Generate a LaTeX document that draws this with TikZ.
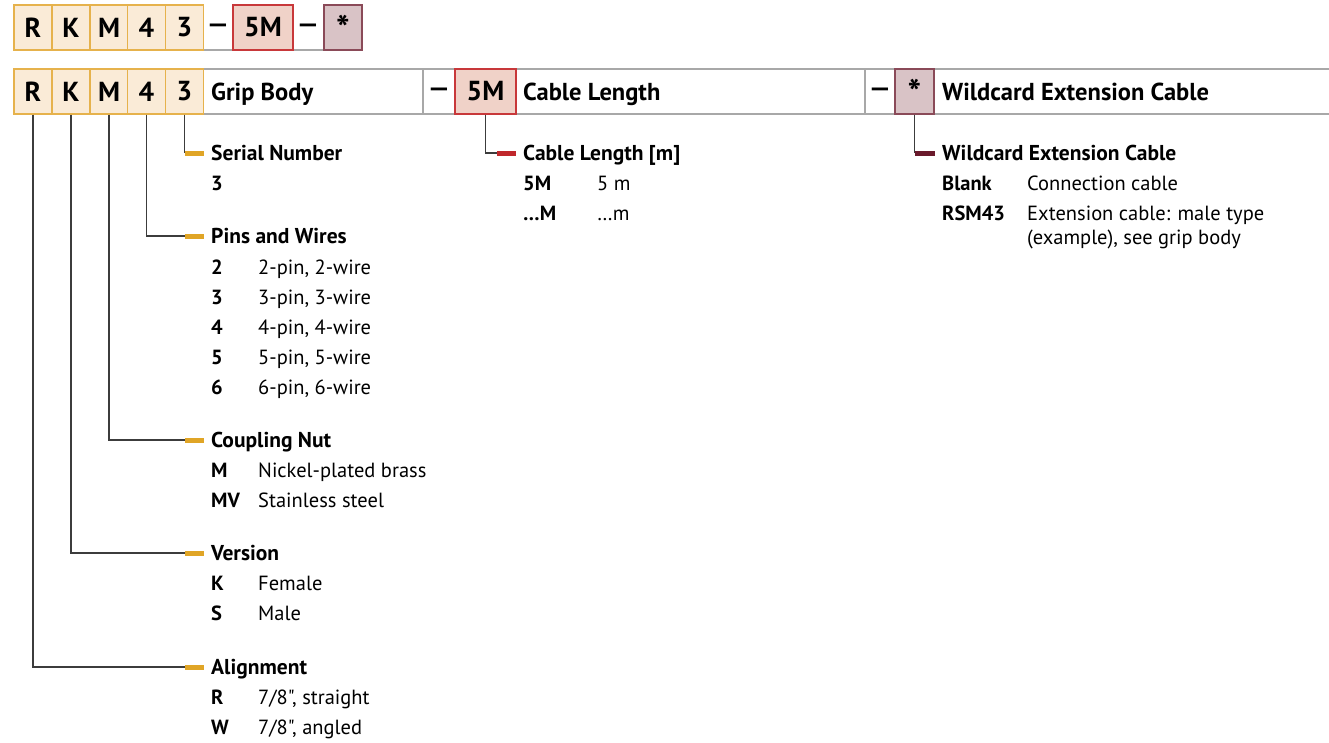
\documentclass[tikz,border=0pt]{standalone}
\usepackage{fontspec}
\setmainfont{PT Sans}[Ligatures=TeXOff]
\definecolor{ofill}{HTML}{FAEBD7}
\definecolor{oborder}{HTML}{E6B24C}
\definecolor{obar}{HTML}{E0A526}
\definecolor{rfill}{HTML}{F0D2C8}
\definecolor{rborder}{HTML}{C8383A}
\definecolor{rbar}{HTML}{C0282C}
\definecolor{mfill}{HTML}{D9C3C6}
\definecolor{mborder}{HTML}{8A4A58}
\definecolor{mbar}{HTML}{6A1A2C}
\definecolor{gline}{HTML}{A8A8A8}
\definecolor{cline}{HTML}{3C3C3C}
\newcommand{\boxfnt}{\fontsize{27.5}{31}\selectfont\bfseries}
\newcommand{\starfnt}{\fontsize{36}{40}\selectfont\bfseries}
\newcommand{\rowfnt}{\fontsize{24.5}{28}\selectfont\bfseries}
\newcommand{\hdrfnt}{\fontsize{21.5}{25}\selectfont\bfseries}
\newcommand{\codefnt}{\fontsize{20.5}{24}\selectfont\bfseries}
\newcommand{\descfnt}{\fontsize{20.5}{24}\selectfont}
\newcommand{\wdash}{\scalebox{1.5}[1]{–}}
\tikzset{
  cell/.style={line width=1.3pt, minimum height=45pt, inner sep=0, font=\boxfnt, anchor=center},
  obox/.style={cell, draw=oborder, fill=ofill, minimum width=37.8pt},
  rbox/.style={cell, draw=rborder, fill=rfill},
  mbox/.style={cell, draw=mborder, fill=mfill},
  startxt/.style={inner sep=0, font=\starfnt},
  dashtxt/.style={inner sep=0, font=\rowfnt},
  rowlbl/.style={inner sep=0, anchor=base west, font=\rowfnt},
  hdr/.style={inner sep=0, anchor=base west, font=\hdrfnt},
  codetxt/.style={inner sep=0, anchor=base west, font=\codefnt},
  desctxt/.style={inner sep=0, anchor=base west, font=\descfnt},
  gridline/.style={draw=gline, line width=1.4pt},
  conn/.style={draw=cline, line width=1.3pt},
  barnode/.style={inner sep=0, minimum height=5pt, minimum width=19pt, anchor=west},
}
\begin{document}
\begin{tikzpicture}[x=1pt,y=-1pt]
\useasboundingbox (0,0) rectangle (1329,742);
% ---------- top row ----------
\draw[gridline] (203,50) -- (324,50);
\node[obox] (tR) at (33,27.5) {R};
\node[obox] (tK) at (71,27.5) {K};
\node[obox] (tM) at (109,27.5) {M};
\node[obox] (t4) at (146.5,27.5) {4};
\node[obox] (t3) at (184.5,27.5) {3};
\node[dashtxt] (td1) at (218,28) {\wdash};
\node[rbox, minimum width=60pt] (t5M) at (263,27.5) {5M};
\node[dashtxt] (td2) at (308,28) {\wdash};
\node[mbox, minimum width=38pt] (tst) at (343,27.5) {};
\node[startxt] (tstar) at (343,28) {*};
% ---------- second row ----------
\draw[gridline] (203,69) -- (1329,69);
\draw[gridline] (203,114) -- (1329,114);
\draw[gridline] (423,69) -- (423,114);
\draw[gridline] (865,69) -- (865,114);
\node[obox] (bR) at (33,91.5) {R};
\node[obox] (bK) at (71,91.5) {K};
\node[obox] (bM) at (109,91.5) {M};
\node[obox] (b4) at (146.5,91.5) {4};
\node[obox] (b3) at (184.5,91.5) {3};
\node[rowlbl] (lGrip) at (211,100) {Grip Body};
\node[dashtxt] (bd1) at (439,92) {\wdash};
\node[rbox, minimum width=61pt] (b5M) at (485.5,91.5) {5M};
\node[rowlbl] (lCable) at (523,100) {Cable Length};
\node[dashtxt] (bd2) at (880,92) {\wdash};
\node[mbox, minimum width=39pt] (bst) at (914.5,91.5) {};
\node[startxt] (bstar) at (914.5,92) {*};
\node[rowlbl] (lWild) at (942,100) {Wildcard Extension Cable};
% ---------- bars ----------
\node[barnode, fill=obar] (barSer) at (184.5,153) {};
\node[barnode, fill=obar] (barPin) at (184.5,236) {};
\node[barnode, fill=obar] (barCou) at (184.5,440) {};
\node[barnode, fill=obar] (barVer) at (184.5,553) {};
\node[barnode, fill=obar] (barAli) at (184.5,667) {};
\node[barnode, fill=rbar] (barLen) at (497,153) {};
\node[barnode, fill=mbar, minimum width=20pt] (barWil) at (914.5,153) {};
% ---------- connectors ----------
\draw[conn] (b3.south) |- (barSer.west);
\draw[conn] (b4.south) |- (barPin.west);
\draw[conn] (bM.south) |- (barCou.west);
\draw[conn] (bK.south) |- (barVer.west);
\draw[conn] (bR.south) |- (barAli.west);
\draw[conn] (b5M.south) |- (barLen.west);
\draw[conn] (bst.south) |- (barWil.west);
% ---------- legend: grip body ----------
\node[hdr] (hSer) at (211,160) {Serial Number};
\node[codetxt] (cSer3) at (211,190) {3};
\node[hdr] (hPin) at (211,243) {Pins and Wires};
\node[codetxt] (cP2) at (211,274) {2}; \node[desctxt] (dP2) at (258,274) {2-pin, 2-wire};
\node[codetxt] (cP3) at (211,304) {3}; \node[desctxt] (dP3) at (258,304) {3-pin, 3-wire};
\node[codetxt] (cP4) at (211,334) {4}; \node[desctxt] (dP4) at (258,334) {4-pin, 4-wire};
\node[codetxt] (cP5) at (211,364) {5}; \node[desctxt] (dP5) at (258,364) {5-pin, 5-wire};
\node[codetxt] (cP6) at (211,394) {6}; \node[desctxt] (dP6) at (258,394) {6-pin, 6-wire};
\node[hdr] (hCou) at (211,447) {Coupling Nut};
\node[codetxt] (cCM) at (211,477) {M}; \node[desctxt] (dCM) at (258,477) {Nickel-plated brass};
\node[codetxt] (cCMV) at (211,507) {MV}; \node[desctxt] (dCMV) at (258,507) {Stainless steel};
\node[hdr] (hVer) at (211,560) {Version};
\node[codetxt] (cVK) at (211,590) {K}; \node[desctxt] (dVK) at (258,590) {Female};
\node[codetxt] (cVS) at (211,620) {S}; \node[desctxt] (dVS) at (258,620) {Male};
\node[hdr] (hAli) at (211,674) {Alignment};
\node[codetxt] (cAR) at (211,704) {R}; \node[desctxt] (dAR) at (258,704) {7/8", straight};
\node[codetxt] (cAW) at (211,734) {W}; \node[desctxt] (dAW) at (258,734) {7/8", angled};
% ---------- legend: cable length ----------
\node[hdr] (hLen) at (523,160) {Cable Length [m]};
\node[codetxt] (cL5) at (523,190) {5M}; \node[desctxt] (dL5) at (597,190) {5 m};
\node[codetxt] (cLx) at (523,220) {…M}; \node[desctxt] (dLx) at (597,220) {…m};
% ---------- legend: wildcard ----------
\node[hdr] (hWil) at (942,160) {Wildcard Extension Cable};
\node[codetxt] (cWB) at (942,190) {Blank}; \node[desctxt] (dWB) at (1027,190) {Connection cable};
\node[codetxt] (cWR) at (942,220) {RSM43}; \node[desctxt] (dWR) at (1027,220) {Extension cable: male type};
\node[desctxt] (dWR2) at (1027,244) {(example), see grip body};
\end{tikzpicture}
\end{document}
